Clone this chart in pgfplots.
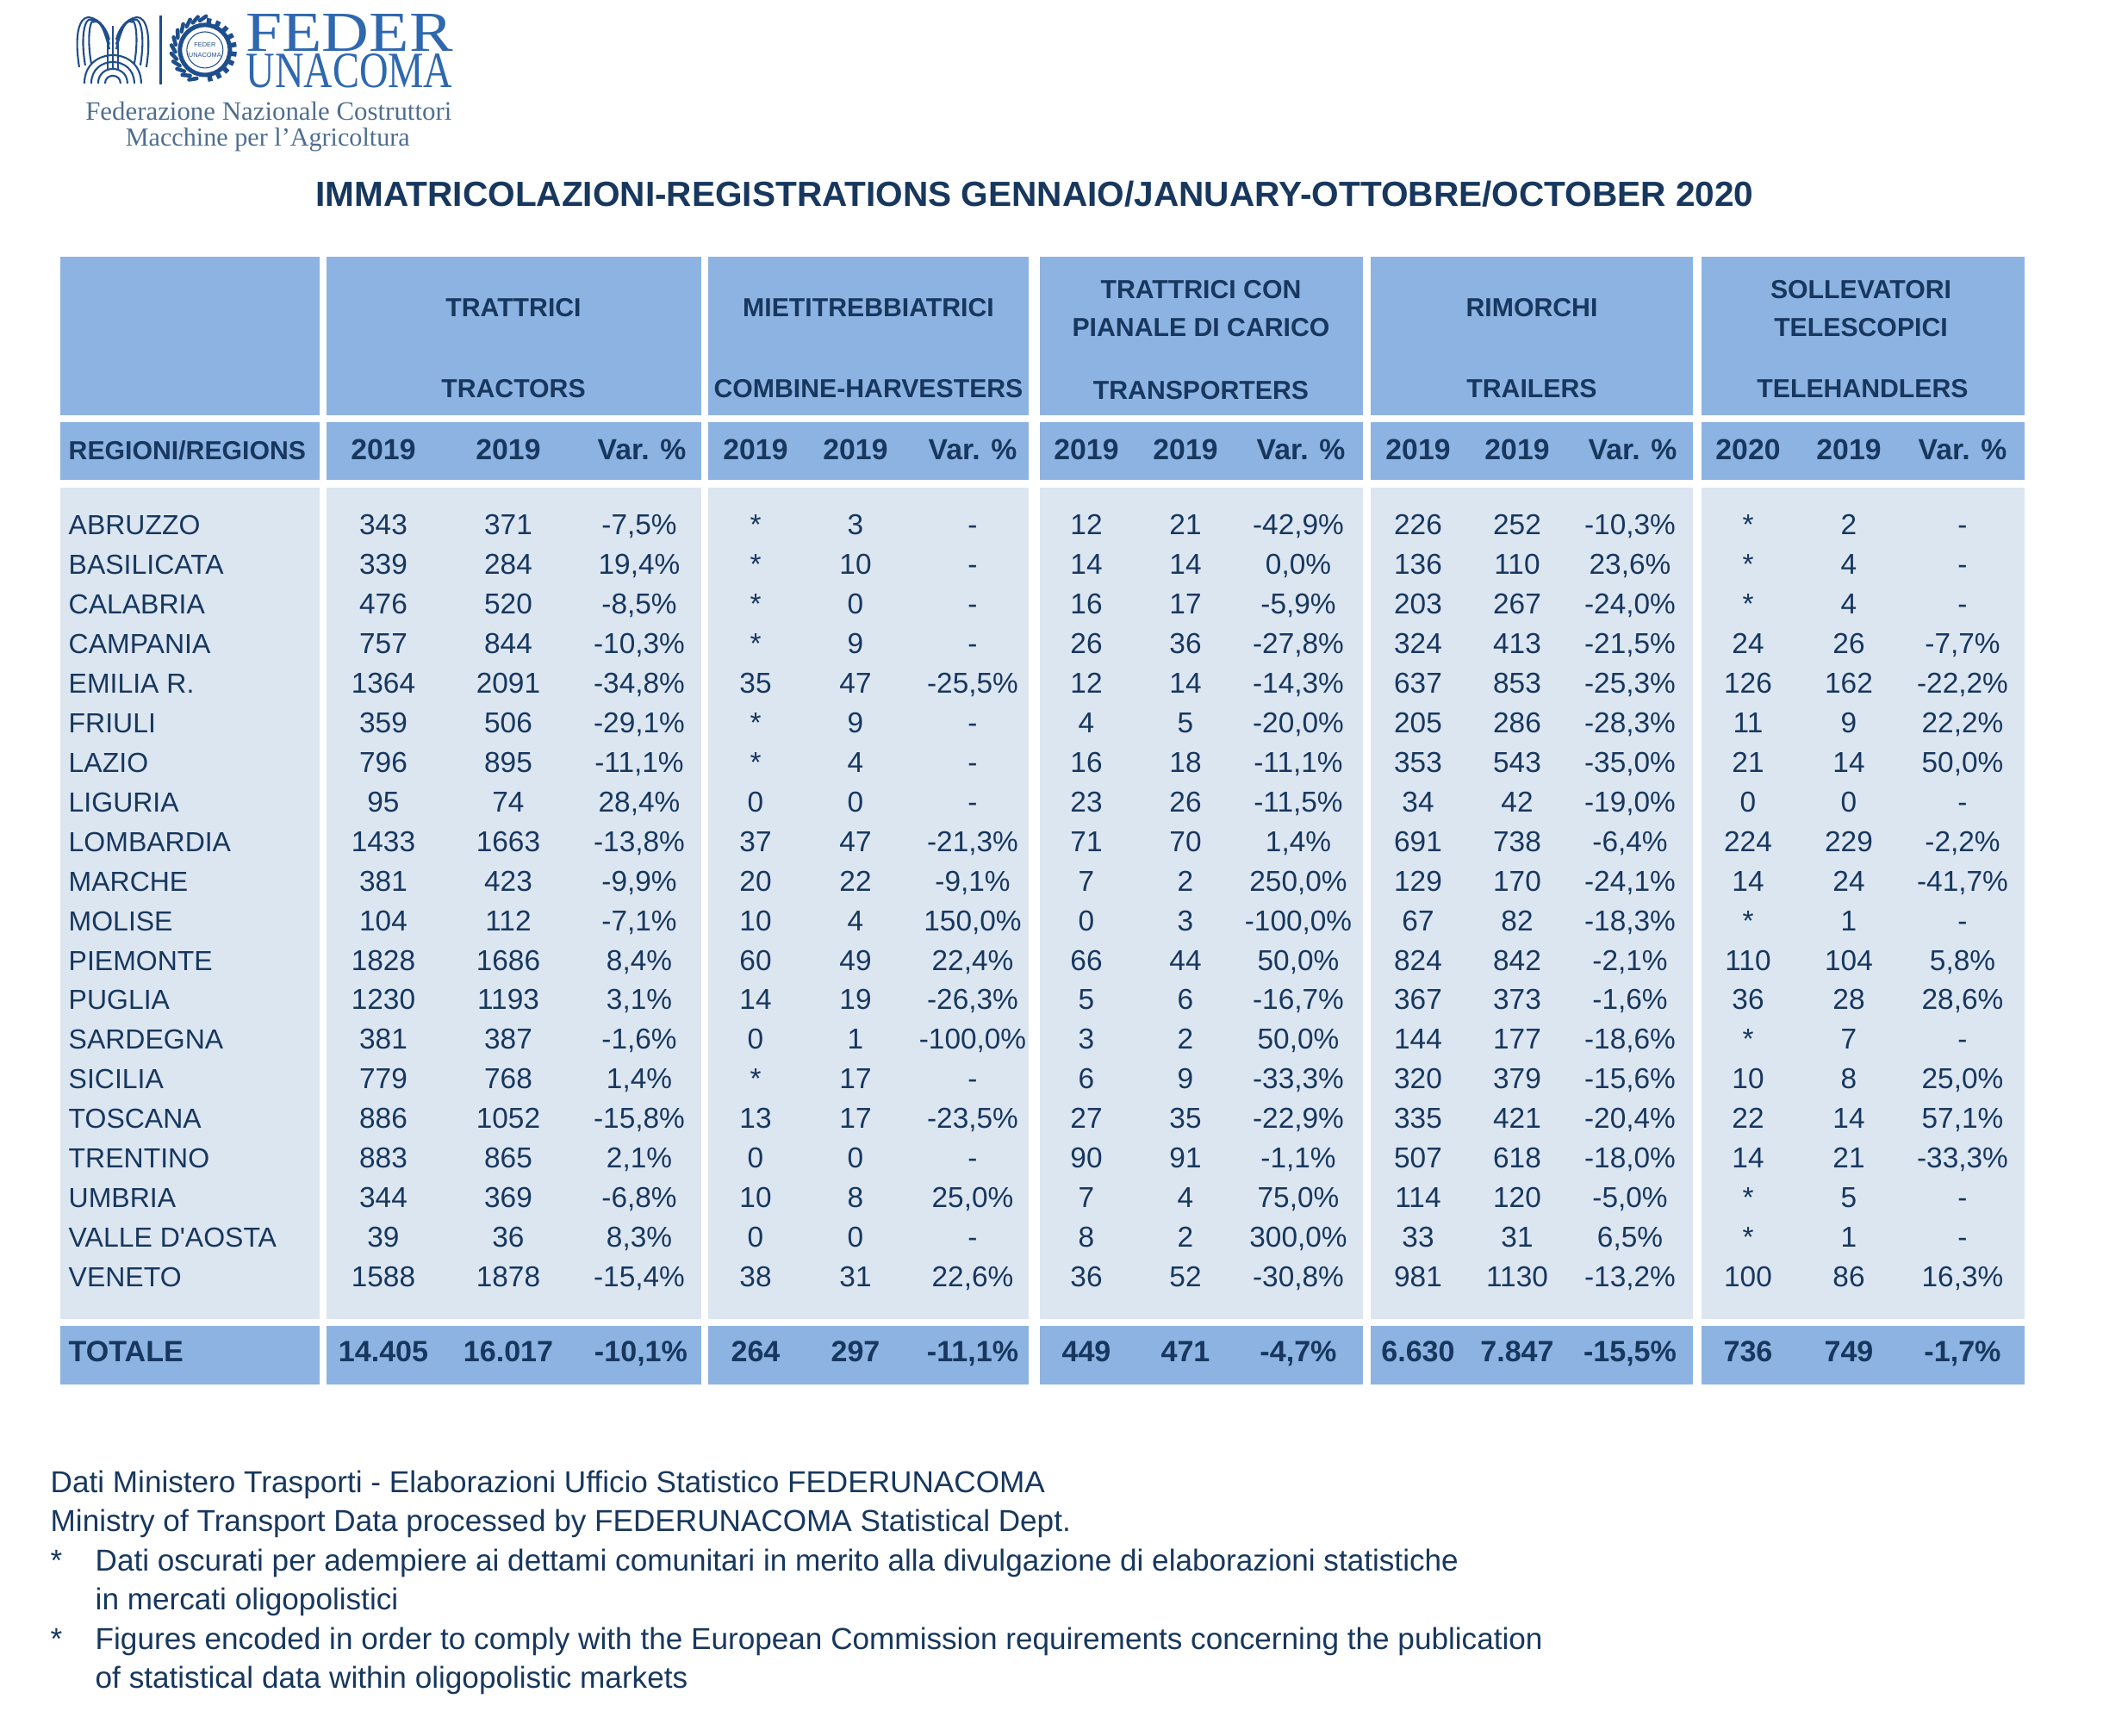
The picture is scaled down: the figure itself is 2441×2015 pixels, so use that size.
\documentclass[border=0pt]{standalone}
\usepackage{fontspec}
\setmainfont{Liberation Sans}
\newfontfamily\seriffont{Liberation Serif}
\usepackage{pgfplots}
\pgfplotsset{compat=1.18}
\usepackage{pgfplotstable}

\definecolor{navy}{HTML}{17375E}
\definecolor{hdr}{HTML}{8DB3E2}
\definecolor{bodyfill}{HTML}{DCE6F1}
\definecolor{logoblue}{HTML}{2E68AE}
\definecolor{logodark}{HTML}{1F4E8C}
\definecolor{logogrey}{HTML}{4E6E90}

\newcommand\bodyfont{\fontsize{9.5}{11}\selectfont}
\newcommand\namefont{\fontsize{9.1}{11}\selectfont}
\newcommand\hdrfont{\fontsize{8.6}{10}\selectfont\bfseries}
\newcommand\yrfont{\fontsize{9.6}{11}\selectfont\bfseries}
\newcommand\totfont{\fontsize{9.7}{11}\selectfont\bfseries}

% y = baseline of each row (pixel rows of the reference, top down)
\pgfplotstableread[col sep=semicolon]{
y;name;a1;a2;a3;b1;b2;b3;c1;c2;c3;d1;d2;d3;e1;e2;e3
620.5;ABRUZZO;343;371;-7,5\%;*;3;-;12;21;-42,9\%;226;252;-10,3\%;*;2;-
666.5;BASILICATA;339;284;19,4\%;*;10;-;14;14;0,0\%;136;110;23,6\%;*;4;-
712.4;CALABRIA;476;520;-8,5\%;*;0;-;16;17;-5,9\%;203;267;-24,0\%;*;4;-
758.4;CAMPANIA;757;844;-10,3\%;*;9;-;26;36;-27,8\%;324;413;-21,5\%;24;26;-7,7\%
804.3;EMILIA R.;1364;2091;-34,8\%;35;47;-25,5\%;12;14;-14,3\%;637;853;-25,3\%;126;162;-22,2\%
850.3;FRIULI;359;506;-29,1\%;*;9;-;4;5;-20,0\%;205;286;-28,3\%;11;9;22,2\%
896.2;LAZIO;796;895;-11,1\%;*;4;-;16;18;-11,1\%;353;543;-35,0\%;21;14;50,0\%
942.2;LIGURIA;95;74;28,4\%;0;0;-;23;26;-11,5\%;34;42;-19,0\%;0;0;-
988.1;LOMBARDIA;1433;1663;-13,8\%;37;47;-21,3\%;71;70;1,4\%;691;738;-6,4\%;224;229;-2,2\%
1034.1;MARCHE;381;423;-9,9\%;20;22;-9,1\%;7;2;250,0\%;129;170;-24,1\%;14;24;-41,7\%
1080.0;MOLISE;104;112;-7,1\%;10;4;150,0\%;0;3;-100,0\%;67;82;-18,3\%;*;1;-
1126.0;PIEMONTE;1828;1686;8,4\%;60;49;22,4\%;66;44;50,0\%;824;842;-2,1\%;110;104;5,8\%
1171.9;PUGLIA;1230;1193;3,1\%;14;19;-26,3\%;5;6;-16,7\%;367;373;-1,6\%;36;28;28,6\%
1217.9;SARDEGNA;381;387;-1,6\%;0;1;-100,0\%;3;2;50,0\%;144;177;-18,6\%;*;7;-
1263.8;SICILIA;779;768;1,4\%;*;17;-;6;9;-33,3\%;320;379;-15,6\%;10;8;25,0\%
1309.8;TOSCANA;886;1052;-15,8\%;13;17;-23,5\%;27;35;-22,9\%;335;421;-20,4\%;22;14;57,1\%
1355.7;TRENTINO;883;865;2,1\%;0;0;-;90;91;-1,1\%;507;618;-18,0\%;14;21;-33,3\%
1401.7;UMBRIA;344;369;-6,8\%;10;8;25,0\%;7;4;75,0\%;114;120;-5,0\%;*;5;-
1447.6;VALLE D\textquotesingle AOSTA;39;36;8,3\%;0;0;-;8;2;300,0\%;33;31;6,5\%;*;1;-
1493.6;VENETO;1588;1878;-15,4\%;38;31;22,6\%;36;52;-30,8\%;981;1130;-13,2\%;100;86;16,3\%
}\regdata

\pgfplotstableread[col sep=semicolon]{
y;name;a1;a2;a3;b1;b2;b3;c1;c2;c3;d1;d2;d3;e1;e2;e3
1580;TOTALE;14.405;16.017;-10,1\%;264;297;-11,1\%;449;471;-4,7\%;6.630;7.847;-15,5\%;736;749;-1,7\%
}\totdata

% one column of cells: x, column name, table, node style
\newcommand{\cells}[4]{\addplot[draw=none, mark=none, nodes near coords,
  point meta=explicit symbolic,
  nodes near coords style={#4}] table[x expr=#1, y=y, meta=#2] {#3};}

% the four shaded boxes of one column block
\newcommand{\blk}[2]{%
  \fill[hdr] (#1,298) rectangle (#2,482);
  \fill[hdr] (#1,490) rectangle (#2,557);
  \fill[bodyfill] (#1,566) rectangle (#2,1531);
  \fill[hdr] (#1,1539) rectangle (#2,1607);}

\begin{document}
\begin{tikzpicture}
\begin{axis}[
  scale only axis, width=24.41cm, height=20.15cm,
  xmin=0, xmax=2441, ymin=0, ymax=2015, y dir=reverse,
  hide axis, clip=false,
  every node near coord/.append style={inner sep=0pt, text=navy},
]
\path (0,0) rectangle (2441,2015);

\blk{70}{371}
\blk{379}{814}
\blk{822}{1194}
\blk{1207}{1582}
\blk{1591}{1965}
\blk{1975}{2350}

% title
\node[anchor=base, inner sep=0pt, text=navy, font=\fontsize{11.55}{13}\selectfont\bfseries]
  at (1201,240) {IMMATRICOLAZIONI-REGISTRATIONS GENNAIO/JANUARY-OTTOBRE/OCTOBER 2020};

% group headers
\begin{scope}[every node/.style={anchor=base, inner sep=0pt, text=navy, font=\hdrfont}]
\node at (596,368) {TRATTRICI};
\node at (596,462) {TRACTORS};
\node at (1008,368) {MIETITREBBIATRICI};
\node at (1008,462) {COMBINE-HARVESTERS};
\node at (1394,347) {TRATTRICI CON};
\node at (1394,390) {PIANALE DI CARICO};
\node at (1394,463) {TRANSPORTERS};
\node at (1778,368) {RIMORCHI};
\node at (1778,462) {TRAILERS};
\node at (2160,347) {SOLLEVATORI};
\node at (2160,390) {TELESCOPICI};
\node at (2162,462) {TELEHANDLERS};
\node[anchor=base west] at (79,533) {REGIONI/REGIONS};
\end{scope}

% year row
\begin{scope}[every node/.style={anchor=base, inner sep=0pt, text=navy, font=\yrfont}]
\node at (445,533) {2019}; \node at (590,533) {2019}; \node at (745,533) {Var. \%};
\node at (877,533) {2019}; \node at (993,533) {2019}; \node at (1129,533) {Var. \%};
\node at (1261,533) {2019}; \node at (1376,533) {2019}; \node at (1510,533) {Var. \%};
\node at (1646,533) {2019}; \node at (1761,533) {2019}; \node at (1895,533) {Var. \%};
\node at (2029,533) {2020}; \node at (2146,533) {2019}; \node at (2278,533) {Var. \%};
\end{scope}

% body cells
\cells{79}{name}{\regdata}{anchor=base west, font=\namefont}
\cells{445}{a1}{\regdata}{anchor=base, font=\bodyfont}
\cells{590}{a2}{\regdata}{anchor=base, font=\bodyfont}
\cells{742}{a3}{\regdata}{anchor=base, font=\bodyfont}
\cells{877}{b1}{\regdata}{anchor=base, font=\bodyfont}
\cells{993}{b2}{\regdata}{anchor=base, font=\bodyfont}
\cells{1129}{b3}{\regdata}{anchor=base, font=\bodyfont}
\cells{1261}{c1}{\regdata}{anchor=base, font=\bodyfont}
\cells{1376}{c2}{\regdata}{anchor=base, font=\bodyfont}
\cells{1507}{c3}{\regdata}{anchor=base, font=\bodyfont}
\cells{1646}{d1}{\regdata}{anchor=base, font=\bodyfont}
\cells{1761}{d2}{\regdata}{anchor=base, font=\bodyfont}
\cells{1892}{d3}{\regdata}{anchor=base, font=\bodyfont}
\cells{2029}{e1}{\regdata}{anchor=base, font=\bodyfont}
\cells{2146}{e2}{\regdata}{anchor=base, font=\bodyfont}
\cells{2278}{e3}{\regdata}{anchor=base, font=\bodyfont}

% totals
\cells{79}{name}{\totdata}{anchor=base west, font=\totfont}
\cells{445}{a1}{\totdata}{anchor=base, font=\totfont}
\cells{590}{a2}{\totdata}{anchor=base, font=\totfont}
\cells{744}{a3}{\totdata}{anchor=base, font=\totfont}
\cells{877}{b1}{\totdata}{anchor=base, font=\totfont}
\cells{993}{b2}{\totdata}{anchor=base, font=\totfont}
\cells{1129}{b3}{\totdata}{anchor=base, font=\totfont}
\cells{1261}{c1}{\totdata}{anchor=base, font=\totfont}
\cells{1376}{c2}{\totdata}{anchor=base, font=\totfont}
\cells{1507}{c3}{\totdata}{anchor=base, font=\totfont}
\cells{1646}{d1}{\totdata}{anchor=base, font=\totfont}
\cells{1761}{d2}{\totdata}{anchor=base, font=\totfont}
\cells{1892}{d3}{\totdata}{anchor=base, font=\totfont}
\cells{2029}{e1}{\totdata}{anchor=base, font=\totfont}
\cells{2146}{e2}{\totdata}{anchor=base, font=\totfont}
\cells{2278}{e3}{\totdata}{anchor=base, font=\totfont}

% notes
\begin{scope}[every node/.style={anchor=base west, inner sep=0pt, text=navy, font=\fontsize{10}{12}\selectfont}]
\node at (58,1732) {Dati Ministero Trasporti - Elaborazioni Ufficio Statistico FEDERUNACOMA};
\node at (58,1777) {Ministry of Transport Data processed by FEDERUNACOMA Statistical Dept.};
\node at (58,1823) {*};
\node at (110,1823) {Dati oscurati per adempiere ai dettami comunitari in merito alla divulgazione di elaborazioni statistiche};
\node at (110,1868) {in mercati oligopolistici};
\node at (58,1914) {*};
\node at (110,1914) {Figures encoded in order to comply with the European Commission requirements concerning the publication};
\node at (110,1959) {of statistical data within oligopolistic markets};
\end{scope}
\end{axis}

% logo, in reference pixels measured from the top left
\begin{scope}[x=0.01cm, y=-0.01cm, shift={(0,20.15cm)}]
  % eagle
  \begin{scope}[logodark, line width=0.6pt]
    \foreach \d in {0,7,14} {
      \draw (92+\d,78-\d*0.3) .. controls (86+\d,40) and (92+\d,20) .. (103+\d*0.4,20+\d*0.4)
            .. controls (116,22) and (124-\d*0.2,34) .. (127,46+\d*0.8);
      \draw (170-\d,78-\d*0.3) .. controls (176-\d,40) and (170-\d,20) .. (159-\d*0.4,20+\d*0.4)
            .. controls (146,22) and (138+\d*0.2,34) .. (135,46+\d*0.8);
    }
    \draw (131,30) -- (131,80);
    \draw (125,48) -- (125,80);
    \draw (137,48) -- (137,80);
    \foreach \r in {9,17,25,33} {
      \draw (131-\r,97) .. controls (131-\r,97-1.33*\r) and (131+\r,97-1.33*\r) .. (131+\r,97);
    }
  \end{scope}
  \draw[logodark, line width=0.8pt] (187,18) -- (187,98);
  % gear and laurel
  \draw[logodark, line width=0.05cm] (238,58) circle[radius=0.29cm];
  \foreach \a in {-80,-62,...,82}
    \draw[logodark, line width=0.055cm] (238,58) ++(\a:0.29cm) -- ++(\a:0.08cm);
  \foreach \a in {100,114,...,262}
    \draw[logodark, line width=0.045cm, line cap=round] (238,58) ++(\a:0.345cm) -- ++(\a-65:0.09cm);
  \draw[logodark, line width=0.3pt] (238,58) circle[radius=0.21cm];
  \node[logodark, inner sep=0pt, font=\fontsize{2.1}{2.5}\selectfont] at (238,52) {FEDER};
  \node[logodark, inner sep=0pt, font=\fontsize{2.1}{2.5}\selectfont] at (238,64) {UNACOMA};
  % words
  \node[anchor=north west, inner sep=0pt, text=logoblue] at (285,16)
    {\resizebox{2.4cm}{0.43cm}{\seriffont FEDER}};
  \node[anchor=north west, inner sep=0pt, text=logoblue] at (285,62)
    {\resizebox{2.4cm}{0.39cm}{\seriffont UNACOMA}};
  \node[anchor=center, inner sep=0pt, text=logogrey] at (312,129)
    {\resizebox{4.25cm}{!}{\seriffont Federazione Nazionale Costruttori}};
  \node[anchor=center, inner sep=0pt, text=logogrey] at (311,162)
    {\resizebox{3.3cm}{!}{\seriffont Macchine per l’Agricoltura}};
\end{scope}
\end{tikzpicture}
\end{document}
